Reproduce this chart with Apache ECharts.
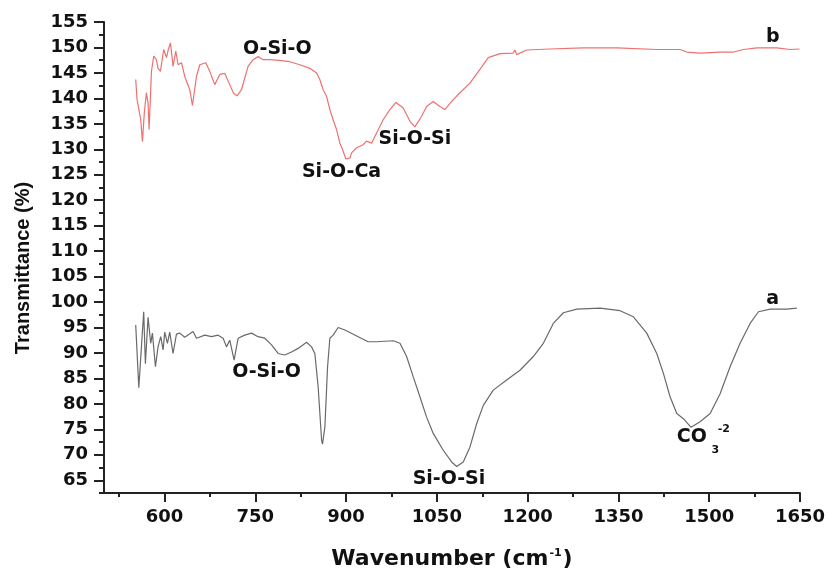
<!DOCTYPE html>
<html>
<head>
<meta charset="utf-8">
<script src="https://cdn.jsdelivr.net/npm/echarts@6/dist/echarts.min.js"></script>
<style>
  html, body { margin: 0; padding: 0; background: #fff; }
  #main { width: 825px; height: 571px; }
</style>
</head>
<body>
<div id="main"></div>
<script>
// 曲线 a（灰色）：波数与透过率
const waveA = [552.4, 557.5, 565.6, 568.4, 572.8, 577.2, 580, 585, 589.3, 593.7, 597.6, 600.4, 604.8, 608.6, 614.1, 619.7, 625.2, 633.4, 647.2, 652.8, 666.5, 677.6, 688.5, 696.8, 702.4, 707.8, 715, 721.6, 732.6, 743.7, 754.6, 765.7, 776.8, 787.7, 798.8, 809.8, 820.8, 834.7, 842.9, 848.4, 853.8, 859.5, 861, 865, 869.4, 873.2, 878.6, 886.9, 898, 920, 936.5, 950.4, 977.9, 989, 1000, 1011, 1022, 1033, 1044, 1060.5, 1074.4, 1082.7, 1093.6, 1104.6, 1115.7, 1126.7, 1143.2, 1165.3, 1187.3, 1209.4, 1225.9, 1242.4, 1259, 1281, 1319.6, 1352.7, 1374.7, 1396.8, 1413.3, 1424.3, 1435.3, 1446.4, 1457.4, 1470, 1484.9, 1501.5, 1518, 1534.5, 1551, 1567.6, 1581.4, 1600.7, 1628.3, 1644.8]
const transA = [95.5, 83.2, 98.1, 87.9, 97, 91.9, 93.9, 87.3, 91.2, 93.2, 90.6, 94.1, 91.9, 94.1, 89.9, 93.7, 93.9, 93.1, 94.2, 92.9, 93.5, 93.2, 93.5, 92.9, 91.2, 92.5, 88.6, 92.9, 93.5, 93.9, 93.2, 92.9, 91.6, 89.9, 89.6, 90.2, 90.9, 92.1, 91.2, 89.9, 83.4, 72.9, 72.1, 75.5, 87.3, 92.9, 93.5, 95.0, 94.5, 93.2, 92.2, 92.2, 92.4, 91.9, 89.3, 85.3, 81.4, 77.4, 74.2, 70.9, 68.6, 67.7, 68.6, 71.5, 76.1, 79.7, 82.7, 84.7, 86.6, 89.3, 91.9, 95.8, 97.9, 98.6, 98.8, 98.3, 97.1, 93.9, 89.9, 86, 81.4, 78.1, 77.1, 75.4, 76.5, 78.1, 82, 87.3, 91.9, 95.8, 98.1, 98.6, 98.6, 98.8]

// 曲线 b（红色）
const waveB = [552.4, 554.6, 557.9, 560.5, 563.5, 566.5, 570, 572.8, 574.5, 578.4, 582.2, 586.6, 589, 593.2, 598.7, 603.2, 606, 609.8, 614.1, 618.6, 622.4, 628, 633.4, 641.7, 646.1, 652.8, 658.2, 668.2, 674.8, 683, 691.3, 699.6, 707.8, 714, 719.9, 727.2, 738.1, 746.4, 754.6, 762.9, 774, 785, 807, 823.6, 840.1, 851.2, 856.6, 862.1, 867.7, 873.2, 878.6, 884.2, 889.7, 894, 899.6, 906.3, 909, 917.3, 922.8, 928.2, 933.9, 942.1, 950.4, 961.3, 972.4, 982.3, 994.4, 1005.5, 1013.7, 1024.8, 1033, 1044, 1055.1, 1063.3, 1074.4, 1088.1, 1104.6, 1121.2, 1134.9, 1154.3, 1176.2, 1179, 1181.9, 1198.4, 1237, 1292, 1347.2, 1413.4, 1451.9, 1463, 1484.9, 1518, 1540, 1556.6, 1578.7, 1611.8, 1633.8, 1649.2]
const transB = [143.7, 139.8, 140.1, 136, 131.5, 137, 141.1, 139.1, 133.9, 145.3, 148.3, 147.6, 146, 145.3, 149.6, 148, 149.5, 150.9, 146.3, 149.3, 146.6, 147, 144.3, 141.7, 138.6, 144.3, 146.6, 147, 145.3, 142.7, 144.7, 144.9, 142.7, 141, 140.5, 141.7, 146.3, 147.6, 148.2, 147.6, 147.6, 147.5, 147.2, 146.6, 145.9, 145, 143.7, 141.7, 140.4, 137.8, 135.8, 133.9, 131.2, 130, 128.1, 128.3, 129.3, 130.3, 130.6, 130.9, 131.6, 131.2, 133.2, 135.8, 137.8, 139.2, 138.1, 135.5, 134.4, 136.5, 138.4, 139.4, 138.4, 137.8, 139.4, 141.1, 143, 145.7, 148, 148.8, 148.9, 149.5, 148.6, 149.5, 149.7, 149.9, 149.9, 149.6, 149.6, 149.1, 148.9, 149.1, 149.1, 149.6, 149.9, 149.9, 149.6, 149.7]

// 刻度
const xTicks = [600, 750, 900, 1050, 1200, 1350, 1500, 1650]
const xMinor = [525, 675, 825, 975, 1125, 1275, 1425, 1575]
const yTicks = [65, 70, 75, 80, 85, 90, 95, 100, 105, 110, 115, 120, 125, 130, 135, 140, 145, 150, 155]
const yMinor = [62.5, 67.5, 72.5, 77.5, 82.5, 87.5, 92.5, 97.5, 102.5, 107.5, 112.5, 117.5, 122.5, 127.5, 132.5, 137.5, 142.5, 147.5, 152.5]

// 峰的标注文字 [波数, 透过率, 文字]
const notes = [
    [786.4, 149.7, 'O-Si-O'],
    [892.5, 125.5, 'Si-O-Ca'],
    [1013.7, 132.1, 'Si-O-Si'],
    [1605, 152.1, 'b'],
    [768.5, 86.2, 'O-Si-O'],
    [1070, 65.3, 'Si-O-Si'],
    [1605, 100.6, 'a'],
    [1471.2, 73.5, 'CO']
]
const smallNotes = [
    [1510, 71.0, '3'],
    [1524, 75.1, '-2']
]

const pair = (xs, ys) => xs.map((x, i) => [x, ys[i]])
const axisColor = '#222'
const labelFont = { fontFamily: 'DejaVu Sans', fontWeight: 'bold', fontSize: 18, color: '#111' }
const noteLabel = { show: true, position: [0, 0], align: 'center', verticalAlign: 'middle', formatter: '{b}' }

var myChart = echarts.init(document.getElementById('main'))

var option = {
    animation: false,
    backgroundColor: '#fff',
    grid: { left: 104, right: 25, top: 22, bottom: 78, containLabel: false, outerBoundsMode: 'none' },
    xAxis: [
        {
            type: 'value', min: 500, max: 1650,
            name: '{t|Wavenumber (cm}{s|-1}{t|)}',
            nameLocation: 'middle', nameGap: 55,
            nameTextStyle: {
                rich: {
                    t: { fontFamily: 'DejaVu Sans', fontWeight: 'bold', fontSize: 22, color: '#111' },
                    s: { fontFamily: 'DejaVu Sans', fontWeight: 'bold', fontSize: 11, color: '#111', padding: [0, 1, 12, 1] }
                }
            },
            axisLine: { lineStyle: { color: axisColor, width: 2 } },
            axisTick: { customValues: xTicks, length: 9, lineStyle: { color: axisColor, width: 2 } },
            axisLabel: { customValues: xTicks, margin: 15, formatter: v => String(v), ...labelFont },
            splitLine: { show: false }
        },
        {
            type: 'value', min: 500, max: 1650, position: 'bottom',
            axisLine: { show: false },
            axisTick: { customValues: xMinor, length: 4, lineStyle: { color: axisColor, width: 2 } },
            axisLabel: { show: false },
            splitLine: { show: false }
        }
    ],
    yAxis: [
        {
            type: 'value', min: 62.5, max: 155,
            axisLine: { show: true, lineStyle: { color: axisColor, width: 2 } },
            axisTick: { show: true, customValues: yTicks, length: 10, lineStyle: { color: axisColor, width: 2 } },
            axisLabel: { customValues: yTicks, margin: 16, formatter: v => String(v), ...labelFont },
            splitLine: { show: false }
        },
        {
            type: 'value', min: 62.5, max: 155, position: 'left',
            axisLine: { show: false },
            axisTick: { show: true, customValues: yMinor, length: 5, lineStyle: { color: axisColor, width: 2 } },
            axisLabel: { show: false },
            splitLine: { show: false }
        }
    ],
    graphic: [{
        type: 'text', x: 23, y: 268, rotation: Math.PI / 2,
        style: {
            text: 'Transmittance (%)', fontFamily: 'Liberation Sans', fontWeight: 'bold',
            fontSize: 20, fill: '#111', align: 'center', verticalAlign: 'middle'
        }
    }],
    series: [
        {
            name: 'b', type: 'line', data: pair(waveB, transB), showSymbol: false,
            lineStyle: { color: '#f07070', width: 1.2 }
        },
        {
            name: 'a', type: 'line', data: pair(waveA, transA), showSymbol: false,
            lineStyle: { color: '#6a6a6a', width: 1.2 }
        },
        {
            name: 'notes', type: 'scatter', symbolSize: 0, silent: true,
            itemStyle: { opacity: 1, color: 'transparent' },
            data: notes.map(n => ({ value: [n[0], n[1]], name: n[2] })),
            label: { ...noteLabel, ...labelFont, fontSize: 19 }
        },
        {
            name: 'smallNotes', type: 'scatter', symbolSize: 0, silent: true,
            itemStyle: { opacity: 1, color: 'transparent' },
            data: smallNotes.map(n => ({ value: [n[0], n[1]], name: n[2] })),
            label: { ...noteLabel, ...labelFont, fontSize: 11 }
        }
    ]
}

option && myChart.setOption(option)
</script>
</body>
</html>
